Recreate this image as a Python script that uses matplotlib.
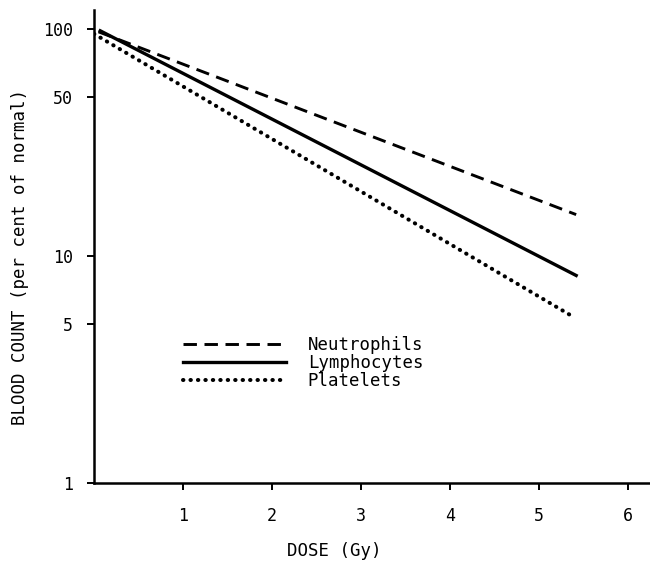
import numpy as np
import matplotlib
matplotlib.use('Agg')
import matplotlib.pyplot as plt
from matplotlib.ticker import FixedLocator, NullLocator

# values (dose in Gy, count in per cent of normal)
dose_neut = [0.05, 5.42]
neutrophils = [97, 15.2]
dose_lymph = [0.07, 5.42]
lymphocytes = [98, 8.2]
dose_plat = [0.0, 5.35]
platelets = [95, 5.5]

x_ticks = [1, 2, 3, 4, 5, 6]
y_ticks = [1, 5, 10, 50, 100]
y_ticklabels = ['1', '5', '10', '50', '100']

plt.rcParams['font.family'] = ['DejaVu Sans Mono']

fig = plt.figure(figsize=(6.5, 5.68), dpi=100)
ax = fig.add_axes([94/650, 1 - 483/568, 556/650, 473/568])

ax.plot(dose_neut, neutrophils, color='k', lw=2.1, linestyle=(0, (4.6, 2.6)),
        label='Neutrophils')
ax.plot(dose_lymph, lymphocytes, color='k', lw=2.4, label='Lymphocytes')
ax.plot(dose_plat, platelets, color='k', lw=2.9, linestyle=(0, (0.1, 1.75)),
        dash_capstyle='round', label='Platelets')

ax.set_yscale('log')
ax.set_xlim(0, 6.25)
ax.set_ylim(1, 121)
ax.yaxis.set_major_locator(FixedLocator(y_ticks))
ax.yaxis.set_minor_locator(NullLocator())
ax.set_yticklabels(y_ticklabels)
ax.set_xticks(x_ticks)

for s in ['top', 'right']:
    ax.spines[s].set_visible(False)
for s in ['left', 'bottom']:
    ax.spines[s].set_linewidth(1.8)
ax.tick_params(axis='both', length=5, width=1.4, labelsize=12)
ax.tick_params(axis='x', pad=12)
ax.tick_params(axis='y', pad=10)

ax.set_xlabel('DOSE (Gy)', fontsize=12.5)
ax.xaxis.set_label_coords(0.432, -0.125)
ax.set_ylabel('BLOOD COUNT (per cent of normal)', fontsize=12.5)
ax.yaxis.set_label_coords(-0.117, 0.478)

leg = ax.legend(loc='upper left', bbox_to_anchor=(0.148, 0.325), frameon=False,
                fontsize=12.5, handlelength=5.9, handletextpad=1.27,
                labelspacing=0.0, borderaxespad=0)

plt.savefig('out.png', dpi=100)
